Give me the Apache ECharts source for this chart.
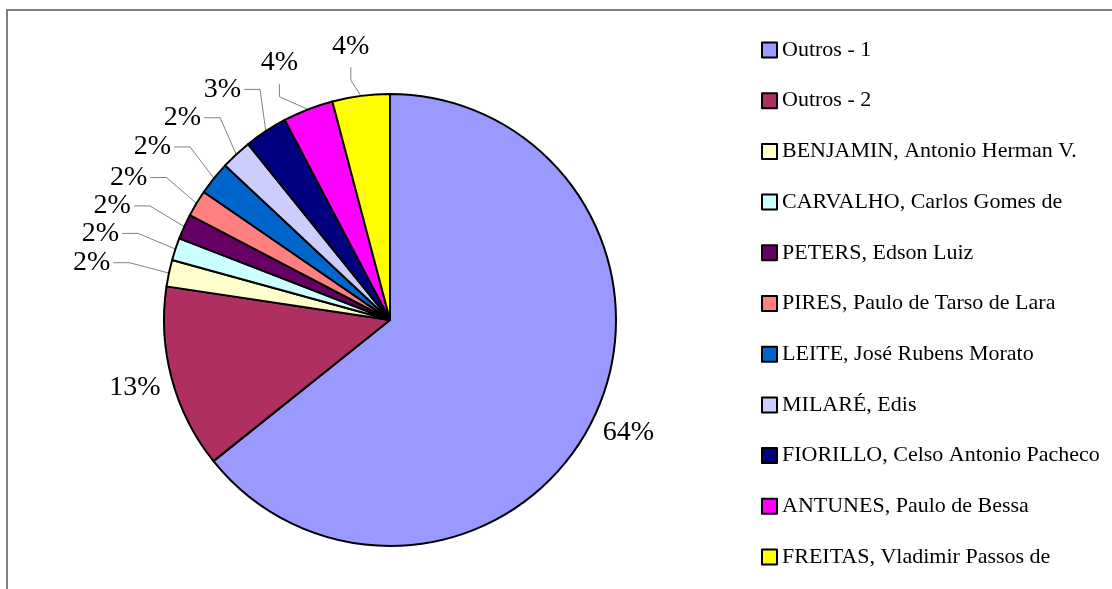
<!DOCTYPE html>
<html>
<head>
<meta charset="utf-8">
<script src="https://cdn.jsdelivr.net/npm/echarts@6/dist/echarts.min.js"></script>
<style>
html,body{margin:0;padding:0;background:#fff;}
#chart{width:1112px;height:589px;}
</style>
</head>
<body>
<div id="chart"></div>
<script>
const categories = [
  'Outros - 1',
  'Outros - 2',
  'BENJAMIN, Antonio Herman V.',
  'CARVALHO, Carlos Gomes de',
  'PETERS, Edson Luiz',
  'PIRES, Paulo de Tarso de Lara',
  'LEITE, José Rubens Morato',
  'MILARÉ, Edis',
  'FIORILLO, Celso Antonio Pacheco',
  'ANTUNES, Paulo de Bessa',
  'FREITAS, Vladimir Passos de'
];
const values = [64.2, 13.1, 1.9, 1.6, 1.8, 1.9, 2.4, 2.2, 3.1, 3.6, 4.1];
const colors = ['#9999FF', '#AF3060', '#FFFFCC', '#CCFFFF', '#660066', '#FF8080',
                '#0066CC', '#CCCCFF', '#000080', '#FF00FF', '#FFFF00'];

const total = values.reduce((a, b) => a + b, 0);
const bigShare = 10;           // slices above this % get a free label without a leader line
const CX = 390, CY = 320, R = 226;
const LABEL_RX = 305, LABEL_RY = 276;  // ellipse on which small-slice labels sit

const data = categories.map((name, i) => {
  const big = values[i] / total * 100 > bigShare;
  const item = { name: name, value: values[i], itemStyle: { color: colors[i] } };
  if (big) {
    item.labelLine = { show: false, length: 33, length2: 0 };
  }
  return item;
});

const chart = echarts.init(document.getElementById('chart'));
chart.setOption({
  animation: false,
  backgroundColor: '#ffffff',
  textStyle: { fontFamily: 'Liberation Serif' },
  graphic: [{
    type: 'rect',
    z: -10,
    shape: { x: 7, y: 10, width: 1300, height: 800 },
    style: { fill: 'none', stroke: '#808080', lineWidth: 2 }
  }],
  legend: {
    orient: 'vertical',
    left: 756,
    top: 34,
    itemWidth: 15,
    itemHeight: 15,
    itemGap: 28.7,
    icon: 'rect',
    data: categories,
    textStyle: { fontFamily: 'Liberation Serif', fontSize: 22, color: '#000', lineHeight: 22 }
  },
  series: [{
    type: 'pie',
    center: [CX, CY],
    radius: R,
    startAngle: 90,
    clockwise: true,
    avoidLabelOverlap: false,
    itemStyle: { borderColor: '#000', borderWidth: 2 },
    emphasis: { disabled: true },
    label: {
      show: true,
      position: 'outside',
      fontFamily: 'Liberation Serif',
      fontSize: 28,
      lineHeight: 28,
      color: '#000',
      distanceToLabelLine: 5,
      formatter: p => Math.round(p.percent) + '%'
    },
    labelLine: {
      show: true,
      length: 8,
      length2: 18,
      lineStyle: { color: '#808080', width: 1 }
    },
    labelLayout: function (params) {
      const i = params.dataIndex;
      if (values[i] / total * 100 > bigShare) {
        return { align: 'center' };
      }
      const pts = params.labelLinePoints;
      if (!pts || !pts[0]) return {};
      const p0 = pts[0];
      const ang = Math.atan2(p0[1] - CY, p0[0] - CX);
      const c = Math.cos(ang), s = Math.sin(ang);
      const lx = CX + LABEL_RX * c;
      const ly = CY + LABEL_RY * s;
      const w = params.labelRect.width, h = params.labelRect.height;
      let line;
      if (Math.abs(c) < 0.42) {
        // label above the pie: leader comes up to the label's bottom
        const b = ly + h / 2;
        line = [p0, [lx, b + 20], [lx, b + 7]];
      } else {
        const side = c < 0 ? 1 : -1;
        const ex = lx + side * (w / 2 + 3);
        line = [p0, [ex + side * 16, ly], [ex, ly]];
      }
      return { x: lx, y: ly, align: 'center', verticalAlign: 'middle', labelLinePoints: line };
    },
    data: data
  }]
});
</script>
</body>
</html>
